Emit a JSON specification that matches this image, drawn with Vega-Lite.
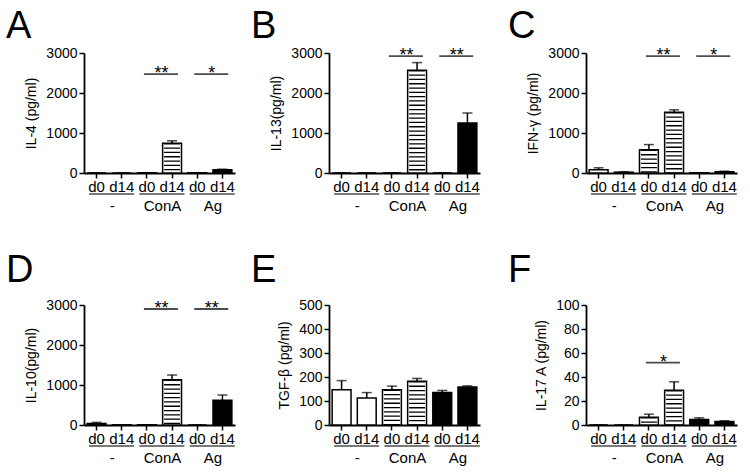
{
  "$schema": "https://vega.github.io/schema/vega-lite/v6.json",
  "background": "white",
  "padding": {"left": 6, "top": 8, "right": 2, "bottom": 2},
  "datasets": {
    "bars": [
      {"panel": "A", "key": "-|d0", "group": "-", "day": "d0", "value": 0, "upper": 0},
      {"panel": "A", "key": "-|d14", "group": "-", "day": "d14", "value": 0, "upper": 0},
      {"panel": "A", "key": "ConA|d0", "group": "ConA", "day": "d0", "value": 5, "upper": 5},
      {"panel": "A", "key": "ConA|d14", "group": "ConA", "day": "d14", "value": 745, "upper": 805},
      {"panel": "A", "key": "Ag|d0", "group": "Ag", "day": "d0", "value": 5, "upper": 5},
      {"panel": "A", "key": "Ag|d14", "group": "Ag", "day": "d14", "value": 80, "upper": 95},
      {"panel": "B", "key": "-|d0", "group": "-", "day": "d0", "value": 0, "upper": 0},
      {"panel": "B", "key": "-|d14", "group": "-", "day": "d14", "value": 0, "upper": 0},
      {"panel": "B", "key": "ConA|d0", "group": "ConA", "day": "d0", "value": 0, "upper": 0},
      {"panel": "B", "key": "ConA|d14", "group": "ConA", "day": "d14", "value": 2570, "upper": 2760},
      {"panel": "B", "key": "Ag|d0", "group": "Ag", "day": "d0", "value": 0, "upper": 0},
      {"panel": "B", "key": "Ag|d14", "group": "Ag", "day": "d14", "value": 1250, "upper": 1500},
      {"panel": "C", "key": "-|d0", "group": "-", "day": "d0", "value": 80, "upper": 130},
      {"panel": "C", "key": "-|d14", "group": "-", "day": "d14", "value": 20, "upper": 30},
      {"panel": "C", "key": "ConA|d0", "group": "ConA", "day": "d0", "value": 580, "upper": 710},
      {"panel": "C", "key": "ConA|d14", "group": "ConA", "day": "d14", "value": 1520, "upper": 1580},
      {"panel": "C", "key": "Ag|d0", "group": "Ag", "day": "d0", "value": 5, "upper": 5},
      {"panel": "C", "key": "Ag|d14", "group": "Ag", "day": "d14", "value": 30, "upper": 45},
      {"panel": "D", "key": "-|d0", "group": "-", "day": "d0", "value": 40, "upper": 65},
      {"panel": "D", "key": "-|d14", "group": "-", "day": "d14", "value": 5, "upper": 5},
      {"panel": "D", "key": "ConA|d0", "group": "ConA", "day": "d0", "value": 5, "upper": 5},
      {"panel": "D", "key": "ConA|d14", "group": "ConA", "day": "d14", "value": 1130, "upper": 1250},
      {"panel": "D", "key": "Ag|d0", "group": "Ag", "day": "d0", "value": 0, "upper": 0},
      {"panel": "D", "key": "Ag|d14", "group": "Ag", "day": "d14", "value": 620, "upper": 750},
      {"panel": "E", "key": "-|d0", "group": "-", "day": "d0", "value": 147, "upper": 185},
      {"panel": "E", "key": "-|d14", "group": "-", "day": "d14", "value": 112, "upper": 135},
      {"panel": "E", "key": "ConA|d0", "group": "ConA", "day": "d0", "value": 147, "upper": 162},
      {"panel": "E", "key": "ConA|d14", "group": "ConA", "day": "d14", "value": 182, "upper": 194},
      {"panel": "E", "key": "Ag|d0", "group": "Ag", "day": "d0", "value": 135, "upper": 144},
      {"panel": "E", "key": "Ag|d14", "group": "Ag", "day": "d14", "value": 158, "upper": 163},
      {"panel": "F", "key": "-|d0", "group": "-", "day": "d0", "value": 0, "upper": 0},
      {"panel": "F", "key": "-|d14", "group": "-", "day": "d14", "value": 0, "upper": 0},
      {"panel": "F", "key": "ConA|d0", "group": "ConA", "day": "d0", "value": 6.5, "upper": 9},
      {"panel": "F", "key": "ConA|d14", "group": "ConA", "day": "d14", "value": 29, "upper": 36},
      {"panel": "F", "key": "Ag|d0", "group": "Ag", "day": "d0", "value": 4.5, "upper": 6},
      {"panel": "F", "key": "Ag|d14", "group": "Ag", "day": "d14", "value": 3, "upper": 3.5}
    ],
    "sig": [
      {"panel": "A", "key": "ConA|d0", "y": 2470, "stars": "**"},
      {"panel": "A", "key": "Ag|d0", "y": 2470, "stars": "*"},
      {"panel": "B", "key": "ConA|d0", "y": 2920, "stars": "**"},
      {"panel": "B", "key": "Ag|d0", "y": 2920, "stars": "**"},
      {"panel": "C", "key": "ConA|d0", "y": 2920, "stars": "**"},
      {"panel": "C", "key": "Ag|d0", "y": 2920, "stars": "*"},
      {"panel": "D", "key": "ConA|d0", "y": 2900, "stars": "**"},
      {"panel": "D", "key": "Ag|d0", "y": 2900, "stars": "**"},
      {"panel": "F", "key": "ConA|d0", "y": 52, "stars": "*"}
    ]
  },
  "spacing": 38,
  "vconcat": [
    {
      "spacing": 16,
      "hconcat": [
        {
          "width": 151, "height": 120,
          "title": {"text": "A", "offset": 0},
          "encoding": {
            "x": {"field": "key", "type": "nominal", "scale": {"domain": ["-|d0","-|d14","ConA|d0","ConA|d14","Ag|d0","Ag|d14"], "paddingInner": 0, "paddingOuter": 0}, "axis": {"title": null, "labelExpr": "split(datum.label,'|')[1]", "labelAngle": 0, "labelFontSize": 15, "labelPadding": 1, "labelOverlap": false}},
            "y": {"field": "value", "type": "quantitative", "scale": {"domain": [0, 3000], "nice": false}, "axis": {"title": "IL-4 (pg/ml)", "values": [0, 1000, 2000, 3000], "format": "d"}}
          },
          "layer": [
            {"data": {"name": "bars"}, "transform": [{"filter": "datum.panel=='A'"}], "mark": {"type": "bar", "stroke": "black", "strokeWidth": 1.5, "width": {"band": 0.75}}, "encoding": {"fill": {"field": "group", "type": "nominal", "scale": {"domain": ["-","ConA","Ag"], "range": ["white","white","black"]}, "legend": null}}},
            {"data": {"name": "bars"}, "transform": [{"filter": "datum.panel=='A' && datum.group=='ConA'"}], "mark": {"type": "rule", "color": "black", "strokeWidth": 16, "strokeDash": [1.3, 3]}, "encoding": {"y2": {"datum": 0}}},
            {"data": {"name": "bars"}, "transform": [{"filter": "datum.panel=='A'"}], "mark": {"type": "rule", "color": "black", "strokeWidth": 1.5}, "encoding": {"y2": {"field": "upper"}}},
            {"data": {"name": "bars"}, "transform": [{"filter": "datum.panel=='A'"}], "mark": {"type": "tick", "color": "black", "size": 10, "thickness": 1.5}, "encoding": {"y": {"field": "upper", "type": "quantitative"}}},
            {"data": {"name": "bars"}, "transform": [{"filter": "datum.panel=='A' && datum.day=='d0'"}], "mark": {"type": "text", "fontSize": 15, "baseline": "alphabetic", "dy": 38, "dx": 3}, "encoding": {"x": {"field": "key", "type": "nominal", "bandPosition": 1}, "y": {"datum": 0}, "text": {"field": "group"}}},
            {"data": {"name": "bars"}, "transform": [{"filter": "datum.panel=='A' && datum.day=='d0'"}], "mark": {"type": "tick", "color": "black", "size": 45, "thickness": 1.5, "yOffset": 21, "xOffset": 15}, "encoding": {"y": {"datum": 0}}},
            {"data": {"name": "sig"}, "transform": [{"filter": "datum.panel=='A'"}], "mark": {"type": "tick", "color": "black", "size": 34, "thickness": 1.8, "xOffset": 14}, "encoding": {"y": {"field": "y", "type": "quantitative"}}},
            {"data": {"name": "sig"}, "transform": [{"filter": "datum.panel=='A'"}], "mark": {"type": "text", "fontSize": 18, "baseline": "alphabetic", "dy": 5, "dx": 2}, "encoding": {"x": {"field": "key", "type": "nominal", "bandPosition": 1}, "y": {"field": "y", "type": "quantitative"}, "text": {"field": "stars"}}}
          ]
        },
        {
          "width": 163, "height": 120,
          "title": {"text": "B", "offset": 0},
          "encoding": {
            "x": {"field": "key", "type": "nominal", "scale": {"domain": ["-|d0","-|d14","ConA|d0","ConA|d14","Ag|d0","Ag|d14"], "range": [0, 151], "paddingInner": 0, "paddingOuter": 0}, "axis": {"title": null, "labelExpr": "split(datum.label,'|')[1]", "labelAngle": 0, "labelFontSize": 15, "labelPadding": 1, "labelOverlap": false}},
            "y": {"field": "value", "type": "quantitative", "scale": {"domain": [0, 3000], "nice": false}, "axis": {"title": "IL-13(pg/ml)", "values": [0, 1000, 2000, 3000], "format": "d"}}
          },
          "layer": [
            {"data": {"name": "bars"}, "transform": [{"filter": "datum.panel=='B'"}], "mark": {"type": "bar", "stroke": "black", "strokeWidth": 1.5, "width": {"band": 0.75}}, "encoding": {"fill": {"field": "group", "type": "nominal", "scale": {"domain": ["-","ConA","Ag"], "range": ["white","white","black"]}, "legend": null}}},
            {"data": {"name": "bars"}, "transform": [{"filter": "datum.panel=='B' && datum.group=='ConA'"}], "mark": {"type": "rule", "color": "black", "strokeWidth": 16, "strokeDash": [1.3, 3]}, "encoding": {"y2": {"datum": 0}}},
            {"data": {"name": "bars"}, "transform": [{"filter": "datum.panel=='B'"}], "mark": {"type": "rule", "color": "black", "strokeWidth": 1.5}, "encoding": {"y2": {"field": "upper"}}},
            {"data": {"name": "bars"}, "transform": [{"filter": "datum.panel=='B'"}], "mark": {"type": "tick", "color": "black", "size": 10, "thickness": 1.5}, "encoding": {"y": {"field": "upper", "type": "quantitative"}}},
            {"data": {"name": "bars"}, "transform": [{"filter": "datum.panel=='B' && datum.day=='d0'"}], "mark": {"type": "text", "fontSize": 15, "baseline": "alphabetic", "dy": 38, "dx": 3}, "encoding": {"x": {"field": "key", "type": "nominal", "bandPosition": 1}, "y": {"datum": 0}, "text": {"field": "group"}}},
            {"data": {"name": "bars"}, "transform": [{"filter": "datum.panel=='B' && datum.day=='d0'"}], "mark": {"type": "tick", "color": "black", "size": 45, "thickness": 1.5, "yOffset": 21, "xOffset": 15}, "encoding": {"y": {"datum": 0}}},
            {"data": {"name": "sig"}, "transform": [{"filter": "datum.panel=='B'"}], "mark": {"type": "tick", "color": "black", "size": 34, "thickness": 1.8, "xOffset": 14}, "encoding": {"y": {"field": "y", "type": "quantitative"}}},
            {"data": {"name": "sig"}, "transform": [{"filter": "datum.panel=='B'"}], "mark": {"type": "text", "fontSize": 18, "baseline": "alphabetic", "dy": 5, "dx": 2}, "encoding": {"x": {"field": "key", "type": "nominal", "bandPosition": 1}, "y": {"field": "y", "type": "quantitative"}, "text": {"field": "stars"}}}
          ]
        },
        {
          "width": 151, "height": 120,
          "title": {"text": "C", "offset": 0},
          "encoding": {
            "x": {"field": "key", "type": "nominal", "scale": {"domain": ["-|d0","-|d14","ConA|d0","ConA|d14","Ag|d0","Ag|d14"], "paddingInner": 0, "paddingOuter": 0}, "axis": {"title": null, "labelExpr": "split(datum.label,'|')[1]", "labelAngle": 0, "labelFontSize": 15, "labelPadding": 1, "labelOverlap": false}},
            "y": {"field": "value", "type": "quantitative", "scale": {"domain": [0, 3000], "nice": false}, "axis": {"title": "IFN-γ (pg/ml)", "values": [0, 1000, 2000, 3000], "format": "d"}}
          },
          "layer": [
            {"data": {"name": "bars"}, "transform": [{"filter": "datum.panel=='C'"}], "mark": {"type": "bar", "stroke": "black", "strokeWidth": 1.5, "width": {"band": 0.75}}, "encoding": {"fill": {"field": "group", "type": "nominal", "scale": {"domain": ["-","ConA","Ag"], "range": ["white","white","black"]}, "legend": null}}},
            {"data": {"name": "bars"}, "transform": [{"filter": "datum.panel=='C' && datum.group=='ConA'"}], "mark": {"type": "rule", "color": "black", "strokeWidth": 16, "strokeDash": [1.3, 3]}, "encoding": {"y2": {"datum": 0}}},
            {"data": {"name": "bars"}, "transform": [{"filter": "datum.panel=='C'"}], "mark": {"type": "rule", "color": "black", "strokeWidth": 1.5}, "encoding": {"y2": {"field": "upper"}}},
            {"data": {"name": "bars"}, "transform": [{"filter": "datum.panel=='C'"}], "mark": {"type": "tick", "color": "black", "size": 10, "thickness": 1.5}, "encoding": {"y": {"field": "upper", "type": "quantitative"}}},
            {"data": {"name": "bars"}, "transform": [{"filter": "datum.panel=='C' && datum.day=='d0'"}], "mark": {"type": "text", "fontSize": 15, "baseline": "alphabetic", "dy": 38, "dx": 3}, "encoding": {"x": {"field": "key", "type": "nominal", "bandPosition": 1}, "y": {"datum": 0}, "text": {"field": "group"}}},
            {"data": {"name": "bars"}, "transform": [{"filter": "datum.panel=='C' && datum.day=='d0'"}], "mark": {"type": "tick", "color": "black", "size": 45, "thickness": 1.5, "yOffset": 21, "xOffset": 15}, "encoding": {"y": {"datum": 0}}},
            {"data": {"name": "sig"}, "transform": [{"filter": "datum.panel=='C'"}], "mark": {"type": "tick", "color": "black", "size": 34, "thickness": 1.8, "xOffset": 14}, "encoding": {"y": {"field": "y", "type": "quantitative"}}},
            {"data": {"name": "sig"}, "transform": [{"filter": "datum.panel=='C'"}], "mark": {"type": "text", "fontSize": 18, "baseline": "alphabetic", "dy": 5, "dx": 2}, "encoding": {"x": {"field": "key", "type": "nominal", "bandPosition": 1}, "y": {"field": "y", "type": "quantitative"}, "text": {"field": "stars"}}}
          ]
        }
      ]
    },
    {
      "spacing": 16,
      "hconcat": [
        {
          "width": 151, "height": 120,
          "title": {"text": "D", "offset": 8},
          "encoding": {
            "x": {"field": "key", "type": "nominal", "scale": {"domain": ["-|d0","-|d14","ConA|d0","ConA|d14","Ag|d0","Ag|d14"], "paddingInner": 0, "paddingOuter": 0}, "axis": {"title": null, "labelExpr": "split(datum.label,'|')[1]", "labelAngle": 0, "labelFontSize": 15, "labelPadding": 1, "labelOverlap": false}},
            "y": {"field": "value", "type": "quantitative", "scale": {"domain": [0, 3000], "nice": false}, "axis": {"title": "IL-10(pg/ml)", "values": [0, 1000, 2000, 3000], "format": "d"}}
          },
          "layer": [
            {"data": {"name": "bars"}, "transform": [{"filter": "datum.panel=='D'"}], "mark": {"type": "bar", "stroke": "black", "strokeWidth": 1.5, "width": {"band": 0.75}}, "encoding": {"fill": {"field": "group", "type": "nominal", "scale": {"domain": ["-","ConA","Ag"], "range": ["white","white","black"]}, "legend": null}}},
            {"data": {"name": "bars"}, "transform": [{"filter": "datum.panel=='D' && datum.group=='ConA'"}], "mark": {"type": "rule", "color": "black", "strokeWidth": 16, "strokeDash": [1.3, 3]}, "encoding": {"y2": {"datum": 0}}},
            {"data": {"name": "bars"}, "transform": [{"filter": "datum.panel=='D'"}], "mark": {"type": "rule", "color": "black", "strokeWidth": 1.5}, "encoding": {"y2": {"field": "upper"}}},
            {"data": {"name": "bars"}, "transform": [{"filter": "datum.panel=='D'"}], "mark": {"type": "tick", "color": "black", "size": 10, "thickness": 1.5}, "encoding": {"y": {"field": "upper", "type": "quantitative"}}},
            {"data": {"name": "bars"}, "transform": [{"filter": "datum.panel=='D' && datum.day=='d0'"}], "mark": {"type": "text", "fontSize": 15, "baseline": "alphabetic", "dy": 38, "dx": 3}, "encoding": {"x": {"field": "key", "type": "nominal", "bandPosition": 1}, "y": {"datum": 0}, "text": {"field": "group"}}},
            {"data": {"name": "bars"}, "transform": [{"filter": "datum.panel=='D' && datum.day=='d0'"}], "mark": {"type": "tick", "color": "black", "size": 45, "thickness": 1.5, "yOffset": 21, "xOffset": 15}, "encoding": {"y": {"datum": 0}}},
            {"data": {"name": "sig"}, "transform": [{"filter": "datum.panel=='D'"}], "mark": {"type": "tick", "color": "black", "size": 34, "thickness": 1.8, "xOffset": 14}, "encoding": {"y": {"field": "y", "type": "quantitative"}}},
            {"data": {"name": "sig"}, "transform": [{"filter": "datum.panel=='D'"}], "mark": {"type": "text", "fontSize": 18, "baseline": "alphabetic", "dy": 5, "dx": 2}, "encoding": {"x": {"field": "key", "type": "nominal", "bandPosition": 1}, "y": {"field": "y", "type": "quantitative"}, "text": {"field": "stars"}}}
          ]
        },
        {
          "width": 163, "height": 120,
          "title": {"text": "E", "offset": 8},
          "encoding": {
            "x": {"field": "key", "type": "nominal", "scale": {"domain": ["-|d0","-|d14","ConA|d0","ConA|d14","Ag|d0","Ag|d14"], "range": [0, 151], "paddingInner": 0, "paddingOuter": 0}, "axis": {"title": null, "labelExpr": "split(datum.label,'|')[1]", "labelAngle": 0, "labelFontSize": 15, "labelPadding": 1, "labelOverlap": false}},
            "y": {"field": "value", "type": "quantitative", "scale": {"domain": [0, 500], "nice": false}, "axis": {"title": "TGF-β (pg/ml)", "values": [0, 100, 200, 300, 400, 500], "format": "d"}}
          },
          "layer": [
            {"data": {"name": "bars"}, "transform": [{"filter": "datum.panel=='E'"}], "mark": {"type": "bar", "stroke": "black", "strokeWidth": 1.5, "width": {"band": 0.75}}, "encoding": {"fill": {"field": "group", "type": "nominal", "scale": {"domain": ["-","ConA","Ag"], "range": ["white","white","black"]}, "legend": null}}},
            {"data": {"name": "bars"}, "transform": [{"filter": "datum.panel=='E' && datum.group=='ConA'"}], "mark": {"type": "rule", "color": "black", "strokeWidth": 16, "strokeDash": [1.3, 3]}, "encoding": {"y2": {"datum": 0}}},
            {"data": {"name": "bars"}, "transform": [{"filter": "datum.panel=='E'"}], "mark": {"type": "rule", "color": "black", "strokeWidth": 1.5}, "encoding": {"y2": {"field": "upper"}}},
            {"data": {"name": "bars"}, "transform": [{"filter": "datum.panel=='E'"}], "mark": {"type": "tick", "color": "black", "size": 10, "thickness": 1.5}, "encoding": {"y": {"field": "upper", "type": "quantitative"}}},
            {"data": {"name": "bars"}, "transform": [{"filter": "datum.panel=='E' && datum.day=='d0'"}], "mark": {"type": "text", "fontSize": 15, "baseline": "alphabetic", "dy": 38, "dx": 3}, "encoding": {"x": {"field": "key", "type": "nominal", "bandPosition": 1}, "y": {"datum": 0}, "text": {"field": "group"}}},
            {"data": {"name": "bars"}, "transform": [{"filter": "datum.panel=='E' && datum.day=='d0'"}], "mark": {"type": "tick", "color": "black", "size": 45, "thickness": 1.5, "yOffset": 21, "xOffset": 15}, "encoding": {"y": {"datum": 0}}}
          ]
        },
        {
          "width": 151, "height": 120,
          "title": {"text": "F", "offset": 8},
          "encoding": {
            "x": {"field": "key", "type": "nominal", "scale": {"domain": ["-|d0","-|d14","ConA|d0","ConA|d14","Ag|d0","Ag|d14"], "paddingInner": 0, "paddingOuter": 0}, "axis": {"title": null, "labelExpr": "split(datum.label,'|')[1]", "labelAngle": 0, "labelFontSize": 15, "labelPadding": 1, "labelOverlap": false}},
            "y": {"field": "value", "type": "quantitative", "scale": {"domain": [0, 100], "nice": false}, "axis": {"title": "IL-17 A (pg/ml)", "values": [0, 20, 40, 60, 80, 100], "format": "d"}}
          },
          "layer": [
            {"data": {"name": "bars"}, "transform": [{"filter": "datum.panel=='F'"}], "mark": {"type": "bar", "stroke": "black", "strokeWidth": 1.5, "width": {"band": 0.75}}, "encoding": {"fill": {"field": "group", "type": "nominal", "scale": {"domain": ["-","ConA","Ag"], "range": ["white","white","black"]}, "legend": null}}},
            {"data": {"name": "bars"}, "transform": [{"filter": "datum.panel=='F' && datum.group=='ConA'"}], "mark": {"type": "rule", "color": "black", "strokeWidth": 16, "strokeDash": [1.3, 3]}, "encoding": {"y2": {"datum": 0}}},
            {"data": {"name": "bars"}, "transform": [{"filter": "datum.panel=='F'"}], "mark": {"type": "rule", "color": "black", "strokeWidth": 1.5}, "encoding": {"y2": {"field": "upper"}}},
            {"data": {"name": "bars"}, "transform": [{"filter": "datum.panel=='F'"}], "mark": {"type": "tick", "color": "black", "size": 10, "thickness": 1.5}, "encoding": {"y": {"field": "upper", "type": "quantitative"}}},
            {"data": {"name": "bars"}, "transform": [{"filter": "datum.panel=='F' && datum.day=='d0'"}], "mark": {"type": "text", "fontSize": 15, "baseline": "alphabetic", "dy": 38, "dx": 3}, "encoding": {"x": {"field": "key", "type": "nominal", "bandPosition": 1}, "y": {"datum": 0}, "text": {"field": "group"}}},
            {"data": {"name": "bars"}, "transform": [{"filter": "datum.panel=='F' && datum.day=='d0'"}], "mark": {"type": "tick", "color": "black", "size": 45, "thickness": 1.5, "yOffset": 21, "xOffset": 15}, "encoding": {"y": {"datum": 0}}},
            {"data": {"name": "sig"}, "transform": [{"filter": "datum.panel=='F'"}], "mark": {"type": "tick", "color": "black", "size": 34, "thickness": 1.8, "xOffset": 14}, "encoding": {"y": {"field": "y", "type": "quantitative"}}},
            {"data": {"name": "sig"}, "transform": [{"filter": "datum.panel=='F'"}], "mark": {"type": "text", "fontSize": 18, "baseline": "alphabetic", "dy": 5, "dx": 2}, "encoding": {"x": {"field": "key", "type": "nominal", "bandPosition": 1}, "y": {"field": "y", "type": "quantitative"}, "text": {"field": "stars"}}}
          ]
        }
      ]
    }
  ],
  "config": {
    "font": "Liberation Sans",
    "view": {"stroke": null},
    "axis": {"domainColor": "black", "domainWidth": 1.8, "tickColor": "black", "tickWidth": 1.5, "tickSize": 5, "labelColor": "black", "labelFontSize": 14, "labelPadding": 2, "titleColor": "black", "titleFontSize": 14, "titleFontWeight": "normal", "titlePadding": 7, "grid": false},
    "title": {"anchor": "start", "frame": "group", "dx": -78, "fontSize": 38, "fontWeight": "normal", "color": "black"},
    "text": {"color": "black"}
  }
}
